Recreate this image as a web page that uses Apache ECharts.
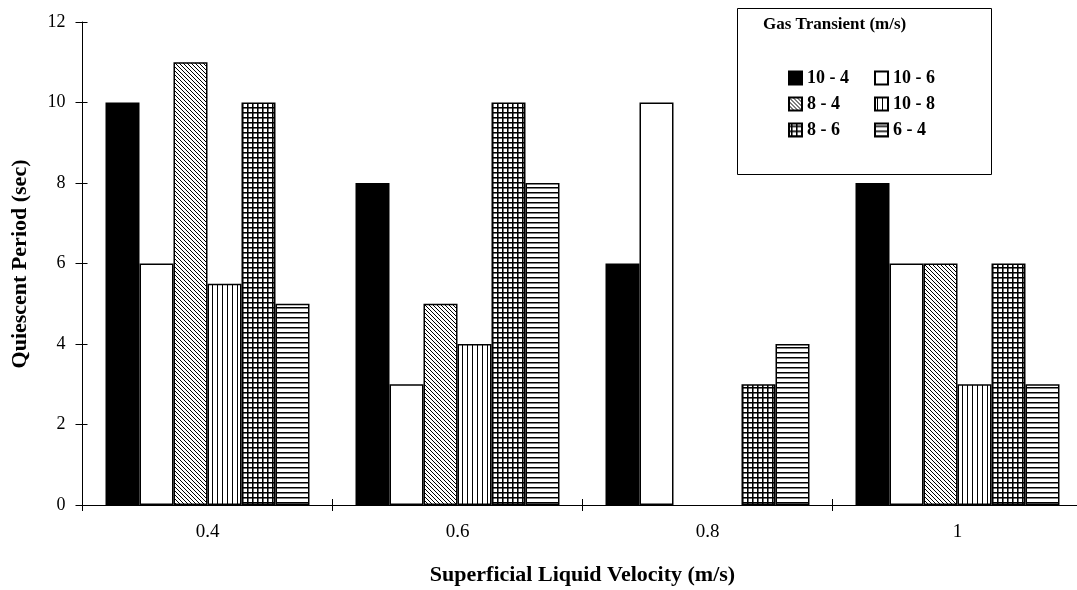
<!DOCTYPE html>
<html>
<head>
<meta charset="utf-8">
<script src="https://cdn.jsdelivr.net/npm/echarts@6/dist/echarts.min.js"></script>
<style>
  html, body { margin: 0; padding: 0; background: #fff; }
  #chart { width: 1077px; height: 590px; }
</style>
</head>
<body>
<div id="chart"></div>
<script>
// Superficial liquid velocity categories (m/s)
const velocities = ['0.4', '0.6', '0.8', '1'];

// Gas transient labels (m/s), in bar order within each group
const transients = ['10 - 4', '10 - 6', '8 - 4', '10 - 8', '8 - 6', '6 - 4'];

// Quiescent period (sec) for each gas transient, one value per velocity
const period_10_4 = [10, 8, 6, 8];
const period_10_6 = [6, 3, 10, 6];
const period_8_4  = [11, 5, null, 6];
const period_10_8 = [5.5, 4, null, 3];
const period_8_6  = [10, 10, 3, 6];
const period_6_4  = [5, 8, 4, 3];

// Value axis range
const yMin = 0, yMax = 12, yStep = 2;

const SERIF = '"Liberation Serif", "DejaVu Serif", serif';

// Small repeating canvases used as hatch fills
function makeTile(w, h, draw) {
  const c = document.createElement('canvas');
  c.width = w; c.height = h;
  const ctx = c.getContext('2d');
  ctx.fillStyle = '#fff';
  ctx.fillRect(0, 0, w, h);
  ctx.fillStyle = '#000';
  ctx.strokeStyle = '#000';
  draw(ctx, w, h);
  return { image: c, repeat: 'repeat' };
}

const fills = {
  solid: '#000',
  blank: '#fff',
  diagonal: makeTile(4, 4, (ctx) => {
    ctx.lineWidth = 1;
    ctx.beginPath();
    for (let k = -1; k <= 1; k++) {
      ctx.moveTo(-1, -1 + k * 4);
      ctx.lineTo(5, 5 + k * 4);
    }
    ctx.stroke();
  }),
  vertical: makeTile(5, 5, (ctx) => {
    ctx.fillRect(2, 0, 1, 5);
  }),
  grid: makeTile(5, 5, (ctx) => {
    ctx.fillRect(2, 0, 1, 5);
    ctx.fillRect(0, 2, 5, 1);
    ctx.globalAlpha = 0.55;
    ctx.fillRect(3, 0, 1, 5);
    ctx.fillRect(0, 3, 5, 1);
  }),
  horizontal: makeTile(5, 5, (ctx) => {
    ctx.fillRect(0, 2, 5, 1);
    ctx.globalAlpha = 0.5;
    ctx.fillRect(0, 3, 5, 1);
  })
};

const seriesData = [period_10_4, period_10_6, period_8_4, period_10_8, period_8_6, period_6_4];
const seriesFill = [fills.solid, fills.blank, fills.diagonal, fills.vertical, fills.grid, fills.horizontal];

const series = transients.map((name, i) => ({
  name: name,
  type: 'bar',
  data: seriesData[i],
  barWidth: 34,
  barGap: '0%',
  itemStyle: {
    color: seriesFill[i],
    borderColor: '#000',
    borderWidth: 1.5
  },
  emphasis: { disabled: true },
  animation: false
}));

const chart = echarts.init(document.getElementById('chart'), null, { renderer: 'canvas' });

const legendText = { fontFamily: SERIF, fontSize: 18, fontWeight: 'bold', color: '#000' };
const legendBase = {
  orient: 'vertical',
  top: 69,
  itemWidth: 13,
  itemHeight: 13,
  itemGap: 8,
  icon: 'rect',
  selectedMode: false,
  textStyle: legendText,
  padding: 0
};

chart.setOption({
  backgroundColor: '#fff',
  animation: false,
  grid: { left: 82.5, top: 22, width: 1000, height: 483, outerBoundsMode: 'none', containLabel: false },
  xAxis: [
    {
      type: 'category',
      data: velocities,
      axisLine: { lineStyle: { color: '#000', width: 1 } },
      axisTick: { show: true, length: 6, lineStyle: { color: '#000' } },
      axisLabel: { fontFamily: SERIF, fontSize: 19, color: '#000', margin: 18 },
      name: 'Superficial Liquid Velocity (m/s)',
      nameLocation: 'middle',
      nameGap: 59,
      nameTextStyle: { fontFamily: SERIF, fontSize: 22, fontWeight: 'bold', color: '#000' }
    },
    {
      // inner half of the crossing tick marks
      type: 'category',
      data: velocities,
      position: 'bottom',
      axisLine: { show: false },
      axisTick: { show: true, inside: true, length: 6, lineStyle: { color: '#000' } },
      axisLabel: { show: false }
    }
  ],
  yAxis: [
    {
      type: 'value',
      min: yMin,
      max: yMax,
      interval: yStep,
      splitLine: { show: false },
      axisLine: { show: true, lineStyle: { color: '#000', width: 1 } },
      axisTick: { show: true, length: 7, lineStyle: { color: '#000' } },
      axisLabel: { fontFamily: SERIF, fontSize: 18, color: '#000', margin: 17 }
    },
    {
      type: 'value',
      min: yMin,
      max: yMax,
      interval: yStep,
      position: 'left',
      splitLine: { show: false },
      axisLine: { show: false },
      axisTick: { show: true, inside: true, length: 5, lineStyle: { color: '#000' } },
      axisLabel: { show: false }
    }
  ],
  legend: [
    Object.assign({ data: ['10 - 4', '8 - 4', '8 - 6'], left: 788 }, legendBase),
    Object.assign({ data: ['10 - 6', '10 - 8', '6 - 4'], left: 874 }, legendBase)
  ],
  graphic: [
    {
      type: 'rect',
      z: -1,
      shape: { x: 737.5, y: 8.5, width: 254, height: 166 },
      style: { fill: '#fff', stroke: '#000', lineWidth: 1 }
    },
    {
      type: 'text',
      x: 763,
      y: 25,
      style: {
        text: 'Gas Transient (m/s)',
        font: 'bold 17px ' + SERIF,
        fill: '#000',
        textVerticalAlign: 'middle'
      }
    },
    {
      type: 'text',
      x: 20,
      y: 264,
      rotation: Math.PI / 2,
      style: {
        text: 'Quiescent Period (sec)',
        font: 'bold 22px ' + SERIF,
        fill: '#000',
        textAlign: 'center',
        textVerticalAlign: 'middle'
      }
    }
  ],
  series: series
});
</script>
</body>
</html>
